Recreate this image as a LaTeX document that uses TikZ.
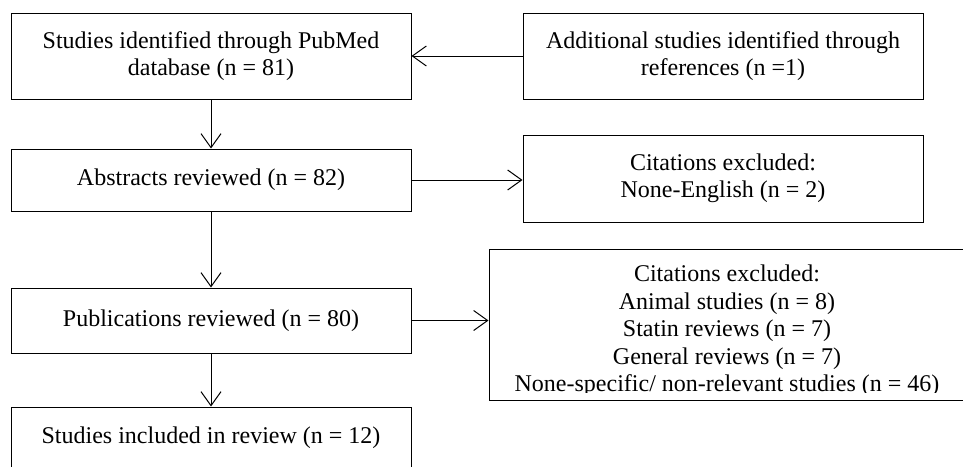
\documentclass[tikz,border=0pt]{standalone}
\usepackage{fontspec}
\setmainfont{Liberation Serif}
\usetikzlibrary{arrows.meta}
\begin{document}
\begin{tikzpicture}[x=1pt,y=-1pt,
  box/.style={draw, line width=1pt, rectangle, align=center, inner sep=0pt,
    font=\fontsize{24}{27.5}\selectfont},
  arr/.style={line width=1pt, -{Straight Barb[length=14pt,width=20pt,line width=1pt]}}]
\clip (0,0) rectangle (963,466);
\node[box, minimum width=400pt, minimum height=86pt] (b1) at (211,56) {Studies identified through PubMed\\database (n = 81)};
\node[box, minimum width=400pt, minimum height=86pt] (r1) at (723,56) {Additional studies identified through\\references (n =1)};
\node[box, minimum width=400pt, minimum height=62pt] (b2) at (211,180) {Abstracts reviewed (n = 82)};
\node[box, minimum width=400pt, minimum height=87pt] (r2) at (723,178.5) {Citations excluded:\\None-English (n = 2)};
\node[box, minimum width=400pt, minimum height=65pt] (b3) at (211,320.5) {Publications reviewed (n = 80)};
\node[box, minimum width=478pt, minimum height=151pt] (r3) at (728,324.5) {};
\begin{scope}
\clip (489,249) rectangle (967,392);
\node[box, draw=none, text depth=0pt, anchor=south] (r3t) at (727,392) {Citations excluded:\\Animal studies (n = 8)\\Statin reviews (n = 7)\\General reviews (n = 7)\\None-specific/ non-relevant studies (n = 46)};
\end{scope}
\node[box, minimum width=400pt, minimum height=61pt] (b4) at (211,437.5) {Studies included in review (n = 12)};
\draw[arr] (b1) -- (b2);
\draw[arr] (b2) -- (b3);
\draw[arr] (b3) -- (b4);
\draw[arr] (r1) -- (b1);
\draw[arr] (b2.east) -- (b2.east -| r2.west);
\draw[arr] (b3.east) -- (b3.east -| r3.west);
\end{tikzpicture}
\end{document}
